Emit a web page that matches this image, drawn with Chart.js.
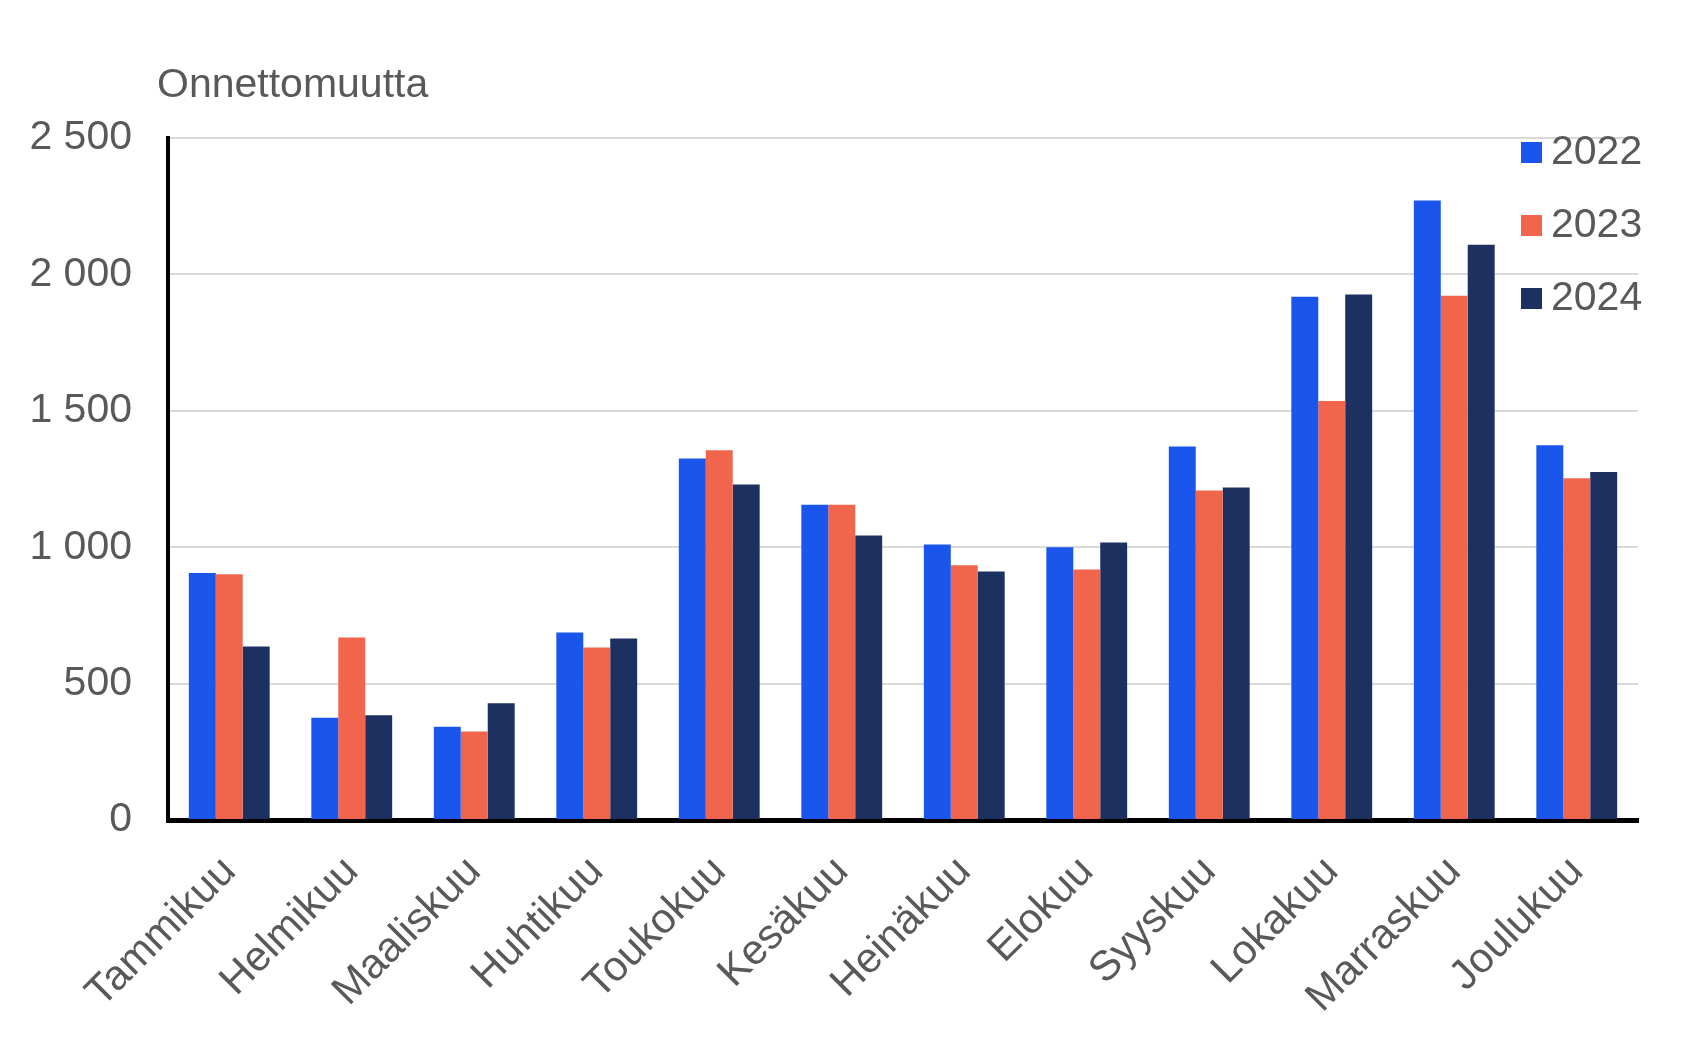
<!DOCTYPE html>
<html>
<head>
<meta charset="utf-8">
<script src="https://cdn.jsdelivr.net/npm/chart.js@4.4.1/dist/chart.umd.min.js"></script>
<style>
  html, body { margin: 0; padding: 0; background: #fff; }
  #wrap { width: 1689px; height: 1046px; }
</style>
</head>
<body>
<div id="wrap"><canvas id="chart" width="1689" height="1046"></canvas></div>
<script>
const months = ['Tammikuu', 'Helmikuu', 'Maaliskuu', 'Huhtikuu', 'Toukokuu', 'Kesäkuu',
                'Heinäkuu', 'Elokuu', 'Syyskuu', 'Lokakuu', 'Marraskuu', 'Joulukuu'];
const years = ['2022', '2023', '2024'];
const values2022 = [905, 375, 342, 687, 1325, 1156, 1010, 1000, 1369, 1918, 2271, 1374];
const values2023 = [901, 669, 324, 632, 1355, 1156, 934, 918, 1208, 1536, 1922, 1253];
const values2024 = [636, 384, 428, 665, 1230, 1043, 911, 1017, 1219, 1926, 2109, 1276];
const yTicks = [0, 500, 1000, 1500, 2000, 2500];
const yTitle = 'Onnettomuutta';

const colors = ['#1a56ec', '#f2654d', '#1c3160'];
const textColor = '#595959';
const fontFamily = '"Liberation Sans", Arial, sans-serif';

function fmt(v) {
    if (v < 1000) return String(v);
    return Math.floor(v / 1000) + ' ' + String(v % 1000).padStart(3, '0');
}

// title above the axis and legend inside the plot, top right
const overlay = {
    id: 'overlay',
    afterDraw(chart) {
        const ctx = chart.ctx;
        const area = chart.chartArea;
        ctx.save();
        ctx.fillStyle = textColor;
        ctx.font = '41px ' + fontFamily;
        ctx.textBaseline = 'middle';
        ctx.textAlign = 'left';
        ctx.fillText(yTitle, area.left - 11, area.top - 52);

        chart.data.datasets.forEach((ds, i) => {
            const y = area.top + 14 + i * 73;
            const x = area.right - 117;
            ctx.fillStyle = ds.backgroundColor;
            ctx.fillRect(x, y - 10, 21, 21);
            ctx.fillStyle = textColor;
            ctx.fillText(ds.label, x + 30, y + 1);
        });
        ctx.restore();
    }
};

new Chart(document.getElementById('chart'), {
    type: 'bar',
    data: {
        labels: months,
        datasets: [
            { label: years[0], data: values2022, backgroundColor: colors[0] },
            { label: years[1], data: values2023, backgroundColor: colors[1] },
            { label: years[2], data: values2024, backgroundColor: colors[2] }
        ]
    },
    options: {
        responsive: false,
        animation: false,
        devicePixelRatio: 1,
        layout: { padding: { top: 138, right: 51, left: 0, bottom: 0 } },
        datasets: { bar: { categoryPercentage: 0.66, barPercentage: 1.0 } },
        plugins: {
            legend: { display: false },
            tooltip: { enabled: false }
        },
        scales: {
            x: {
                grid: { display: false, drawTicks: false },
                border: { display: true, color: '#000', width: 5 },
                ticks: {
                    color: textColor,
                    font: { family: fontFamily, size: 42 },
                    maxRotation: 45,
                    minRotation: 45,
                    padding: 27,
                    autoSkip: false
                },
                afterFit(scale) { scale.height = 226; }
            },
            y: {
                min: 0,
                max: 2500,
                afterBuildTicks(scale) { scale.ticks = yTicks.map(v => ({ value: v })); },
                grid: { color: '#d9d9d9', lineWidth: 2, drawTicks: false },
                border: { display: true, color: '#000', width: 4 },
                ticks: {
                    color: textColor,
                    font: { family: fontFamily, size: 41 },
                    padding: 36,
                    callback: v => fmt(v)
                },
                afterFit(scale) { scale.width = 168; }
            }
        }
    },
    plugins: [overlay]
});
</script>
</body>
</html>
